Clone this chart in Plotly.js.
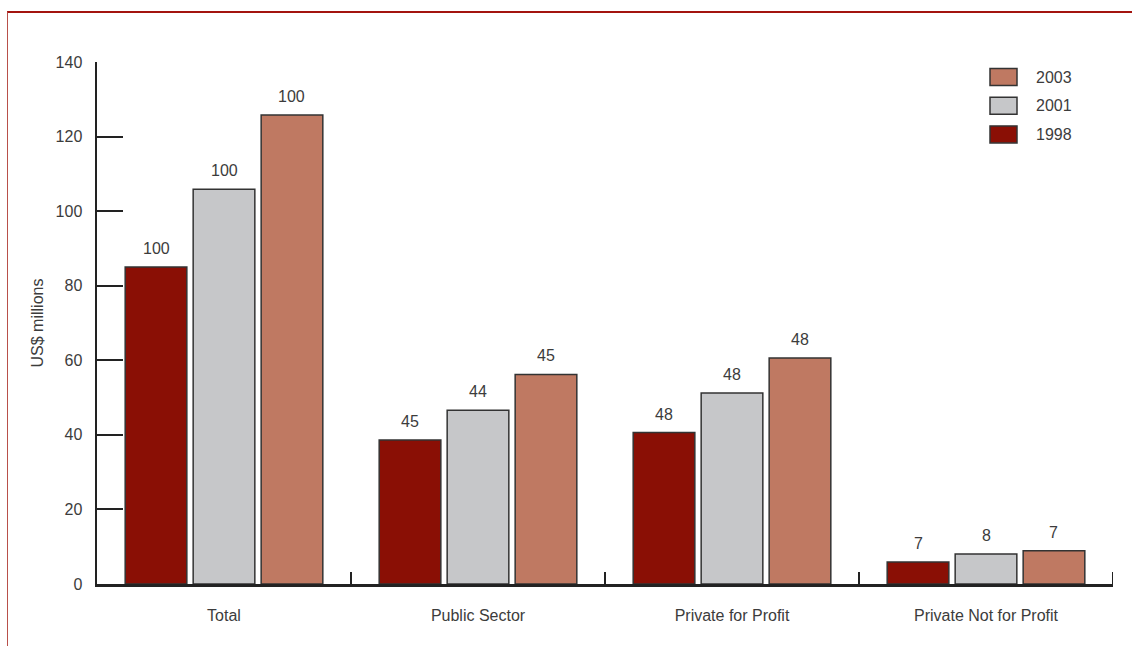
<!DOCTYPE html>
<html>
<head>
<meta charset="utf-8">
<script src="https://cdn.plot.ly/plotly-3.0.1.min.js"></script>
<style>
  html, body { margin: 0; padding: 0; background: #ffffff; }
  #wrap { position: relative; width: 1132px; height: 646px; overflow: hidden; }
  #chart { position: absolute; left: 0; top: 0; width: 1132px; height: 646px; }
  #frame {
    position: absolute; left: 7px; top: 11px; right: -4px; bottom: -4px;
    border-top: 2px solid #a3140f; border-left: 1.5px solid #b8504a;
    pointer-events: none;
  }
</style>
</head>
<body>
<div id="wrap">
  <div id="chart"></div>
  <div id="frame"></div>
</div>
<script>
// Spending by sector, US$ millions
const categories = ['Total', 'Public Sector', 'Private for Profit', 'Private Not for Profit'];
const years = ['1998', '2001', '2003'];

const values1998 = [85, 38.6, 40.6, 5.9];
const values2001 = [105.9, 46.6, 51.2, 8.05];
const values2003 = [125.8, 56.2, 60.6, 8.9];

// Labels printed above each bar
const labels1998 = ['100', '45', '48', '7'];
const labels2001 = ['100', '44', '48', '8'];
const labels2003 = ['100', '45', '48', '7'];

const yTickValues = [0, 20, 40, 60, 80, 100, 120, 140];

const seriesColors = ['#8a0f05', '#c6c7c9', '#bf7962'];
const seriesValues = [values1998, values2001, values2003];
const seriesLabels = [labels1998, labels2001, labels2003];

const FONT = 'Liberation Sans, Arial, sans-serif';
const TEXT = '#3c3c3c';
const AXIS = '#222222';

const W = 1132, H = 646;
const margin = { l: 97, r: 19, t: 62, b: 62, pad: 0 };
const bargap = 0.197;
const bargroupgap = 0.093;

const traces = years.map((yr, i) => ({
  type: 'bar',
  name: yr,
  x: categories,
  y: seriesValues[i],
  marker: { color: seriesColors[i], line: { color: '#333333', width: 1.5 } },
  hoverinfo: 'x+y+name',
  showlegend: false
}));

// pixel offset of each series inside a category group
const plotW = W - margin.l - margin.r;
const slotPx = plotW / categories.length * (1 - bargap) / years.length;

const annotations = [];
years.forEach((yr, i) => {
  categories.forEach((c, j) => {
    annotations.push({
      x: c, y: seriesValues[i][j], xref: 'x', yref: 'y',
      text: seriesLabels[i][j],
      showarrow: false,
      xanchor: 'center', yanchor: 'bottom',
      xshift: (i - (years.length - 1) / 2) * slotPx,
      yshift: 8,
      font: { family: FONT, size: 16, color: TEXT }
    });
  });
});

// legend, newest year on top
const shapes = [];
const legendLeftPx = 990, legendTopPx = 77, legendStepPx = 28.7;
const toPaperX = px => (px - margin.l) / plotW;
const plotH = H - margin.t - margin.b;
const toPaperY = py => (H - margin.b - py) / plotH;
years.slice().reverse().forEach((yr, k) => {
  const i = years.length - 1 - k;
  const cy = legendTopPx + k * legendStepPx;
  shapes.push({
    type: 'rect', xref: 'paper', yref: 'paper',
    x0: toPaperX(legendLeftPx), x1: toPaperX(legendLeftPx + 27),
    y0: toPaperY(cy - 8.5), y1: toPaperY(cy + 8.5),
    fillcolor: seriesColors[i],
    line: { color: '#333333', width: 1.5 }
  });
  annotations.push({
    xref: 'paper', yref: 'paper',
    x: toPaperX(legendLeftPx + 44), y: toPaperY(cy),
    xanchor: 'left', yanchor: 'middle',
    text: yr, showarrow: false,
    font: { family: FONT, size: 16, color: TEXT }
  });
});

// closing divider tick at the right end of the category axis
shapes.push({
  type: 'line', xref: 'x', yref: 'paper',
  x0: categories.length - 0.5, x1: categories.length - 0.5,
  y0: 0, y1: 12 / plotH,
  line: { color: AXIS, width: 2 }
});

const layout = {
  width: W, height: H,
  margin: margin,
  paper_bgcolor: '#ffffff',
  plot_bgcolor: '#ffffff',
  font: { family: FONT, size: 16, color: TEXT },
  barmode: 'group',
  bargap: bargap,
  bargroupgap: bargroupgap,
  showlegend: false,
  xaxis: {
    type: 'category',
    range: [-0.5, categories.length - 0.5],
    showline: true, linecolor: AXIS, linewidth: 2.5,
    ticks: 'inside', tickson: 'boundaries', ticklen: 12, tickwidth: 2, tickcolor: AXIS,
    showgrid: false, zeroline: false,
    ticklabelstandoff: 15,
    tickfont: { family: FONT, size: 16, color: TEXT },
    fixedrange: true
  },
  yaxis: {
    range: [0, 140],
    tickvals: yTickValues,
    showline: true, linecolor: AXIS, linewidth: 2.5,
    ticks: 'inside', ticklen: 26, tickwidth: 2, tickcolor: AXIS,
    showgrid: false, zeroline: false,
    ticklabelstandoff: 9,
    tickfont: { family: FONT, size: 16, color: TEXT },
    title: { text: 'US$ millions', font: { family: FONT, size: 16, color: TEXT }, standoff: 8 },
    fixedrange: true
  },
  annotations: annotations,
  shapes: shapes
};

Plotly.newPlot('chart', traces, layout, { displayModeBar: false, staticPlot: true });
</script>
</body>
</html>
